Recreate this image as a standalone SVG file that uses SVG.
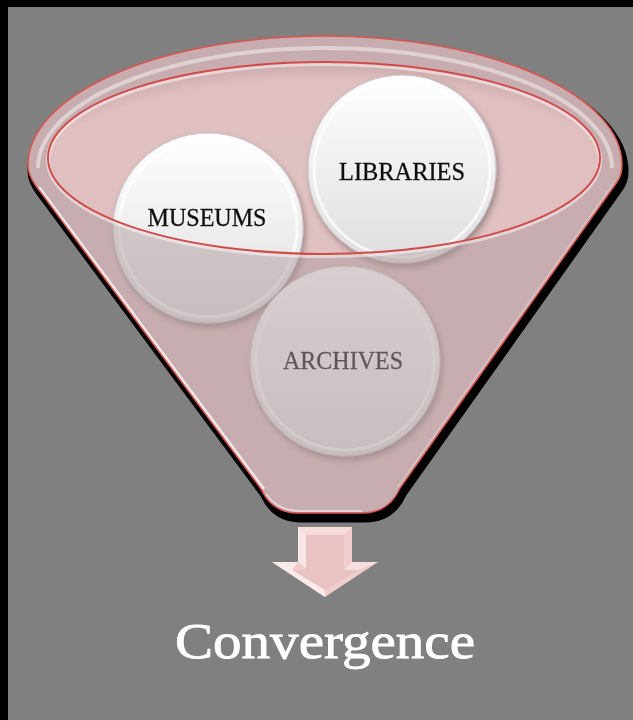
<svg xmlns="http://www.w3.org/2000/svg" width="633" height="720" viewBox="0 0 633 720">
  <style>
    .lbl { font-family: "Liberation Serif", "DejaVu Serif", serif; font-size: 25px; fill: #111; text-anchor: middle; stroke: #111; stroke-width: 0.3; }
    .title { font-family: "Liberation Serif", "DejaVu Serif", serif; font-size: 50px; fill: #ffffff; text-anchor: middle; stroke: #ffffff; stroke-width: 0.8; }
    .disc { fill: url(#discGrad); stroke: #c9c4c4; stroke-width: 1; }
    .bevel { fill: none; stroke: #ffffff; stroke-opacity: 0.7; stroke-width: 3; }
  </style>
  <defs>
    <linearGradient id="discGrad" x1="0" y1="0" x2="0" y2="1">
      <stop offset="0" stop-color="#ffffff"/>
      <stop offset="1" stop-color="#dedede"/>
    </linearGradient>
    <radialGradient id="backGrad" cx="0.5" cy="0.62" r="0.62">
      <stop offset="0" stop-color="#e2c3c4"/>
      <stop offset="0.85" stop-color="#dfbfc0"/>
      <stop offset="1" stop-color="#caa9aa"/>
    </radialGradient>
    <filter id="sh" x="-20%" y="-20%" width="140%" height="140%">
      <feDropShadow dx="2" dy="4" stdDeviation="3" flood-color="#000" flood-opacity="0.3"/>
    </filter>
    <path id="silhouette" d="M 28,165 A 297 129 0 0 1 622,165 C 622,173 620,178 617,182 L 400,488 Q 389,513 362,513 L 298,513 Q 272,513 261,489 L 36,186 C 31,179 28,172 28,165 Z"/>
  </defs>

  <rect x="0" y="0" width="633" height="720" fill="#000"/>
  <rect x="8" y="7" width="625" height="713" fill="#808080"/>

  <!-- funnel shadow and back -->
  <use href="#silhouette" transform="translate(3,6)" fill="#000" stroke="#000" stroke-width="7" stroke-linejoin="round"/>
  <use href="#silhouette" fill="#dcbdbe"/>
  <ellipse cx="324" cy="158" rx="276" ry="96" fill="url(#backGrad)"/>

  <!-- nodes -->
  <g id="node-museums" filter="url(#sh)">
    <circle class="disc" cx="208" cy="228" r="95"/>
    <circle class="bevel" cx="208" cy="228" r="89"/>
    <text class="lbl" x="207" y="226" textLength="119" lengthAdjust="spacingAndGlyphs">MUSEUMS</text>
  </g>
  <g id="node-libraries" filter="url(#sh)">
    <circle class="disc" cx="402" cy="169" r="94"/>
    <circle class="bevel" cx="402" cy="169" r="88"/>
    <text class="lbl" x="402" y="180" textLength="126" lengthAdjust="spacingAndGlyphs">LIBRARIES</text>
  </g>
  <g id="node-archives" filter="url(#sh)">
    <circle class="disc" cx="345" cy="361" r="95"/>
    <circle class="bevel" cx="345" cy="361" r="89"/>
    <text class="lbl" x="343" y="369" textLength="120" lengthAdjust="spacingAndGlyphs">ARCHIVES</text>
  </g>

  <!-- funnel front (translucent body and rim) -->
  <path fill="#b19da0" fill-opacity="0.5" fill-rule="evenodd" d="M 28,165 A 297 129 0 0 1 622,165 C 622,173 620,178 617,182 L 400,488 Q 389,513 362,513 L 298,513 Q 272,513 261,489 L 36,186 C 31,179 28,172 28,165 Z M 48,158 A 276 96 0 0 0 600,158 A 276 96 0 0 0 48,158 Z"/>
  <!-- rim highlights -->
  <path d="M 38,168 A 287 120 0 0 1 612,168" fill="none" stroke="#ffffff" stroke-opacity="0.45" stroke-width="4"/>
  <path d="M 39,187 L 264,489" fill="none" stroke="#ffffff" stroke-opacity="0.75" stroke-width="2.5"/>
  <path d="M 614,183 L 398,487" fill="none" stroke="#ffffff" stroke-opacity="0.25" stroke-width="2"/>
  <path d="M 266,494 Q 278,511 300,511 L 362,511" fill="none" stroke="#ffffff" stroke-opacity="0.5" stroke-width="2"/>
  <!-- outlines -->
  <use href="#silhouette" fill="none" stroke="#d9534f" stroke-width="1.5"/>
  <ellipse cx="324" cy="158" rx="276" ry="96" fill="none" stroke="#ffffff" stroke-opacity="0.5" stroke-width="4" transform="translate(0,2)"/>
  <ellipse cx="324" cy="158" rx="276" ry="96" fill="none" stroke="#d24a4a" stroke-width="2"/>

  <!-- connectors -->
  <g id="connectors">
    <g id="arrow-down">
      <polygon points="298,527 352,527 352,562 378,562 325,597 272,562 298,562" fill="#f0cccc"/>
      <polygon points="298,527 352,527 344,535 306,535" fill="#f6dcdc"/>
      <polygon points="298,527 306,535 306,568 298,562" fill="#f9e6e6"/>
      <polygon points="306,535 344,535 344,570 358,570 325,590 292,570 306,570" fill="#e9c2c3"/>
      <polygon points="272,562 298,562 292,570 325,590 325,597" fill="#fbeaea"/>
      <polygon points="352,562 378,562 358,570 344,570" fill="#f7dede"/>
    </g>
  </g>

  <text class="title" x="325" y="658" textLength="300" lengthAdjust="spacingAndGlyphs">Convergence</text>
</svg>
